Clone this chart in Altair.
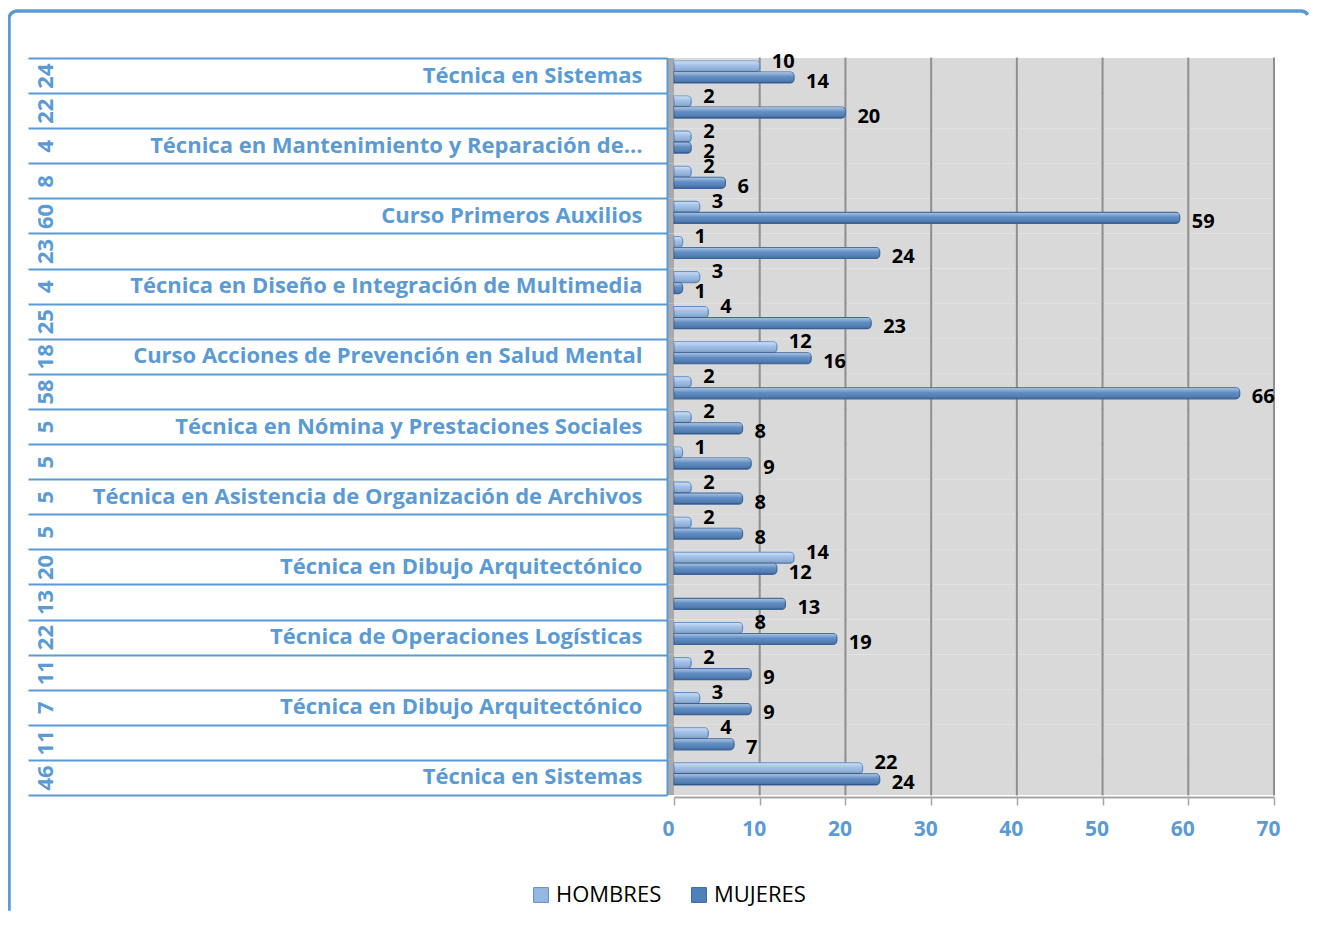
import json
import math
import altair as alt
import pandas as pd

categories = [
    "Técnica en Sistemas", "",
    "Técnica en Mantenimiento y Reparación de…", "",
    "Curso Primeros Auxilios", "",
    "Técnica en Diseño e Integración de Multimedia", "",
    "Curso Acciones de Prevención en Salud Mental", "",
    "Técnica en Nómina y Prestaciones Sociales", "",
    "Técnica en Asistencia de Organización de Archivos", "",
    "Técnica en Dibujo Arquitectónico", "",
    "Técnica de Operaciones Logísticas", "",
    "Técnica en Dibujo Arquitectónico", "",
    "Técnica en Sistemas",
]
totals = [24, 22, 4, 8, 60, 23, 4, 25, 18, 58, 5, 5, 5, 5, 20, 13, 22, 11, 7, 11, 46]
hombres = [10, 2, 2, 2, 3, 1, 3, 4, 12, 2, 2, 1, 2, 2, 14, 0, 8, 2, 3, 4, 22]
mujeres = [14, 20, 2, 6, 59, 24, 1, 23, 16, 66, 8, 9, 8, 8, 12, 13, 19, 9, 9, 7, 24]
series = ["HOMBRES", "MUJERES"]
x_ticks = [0, 10, 20, 30, 40, 50, 60, 70]

BLUE = "#5b9bd5"
FONT = "Open Sans"
H_COL, M_COL = "#95b8e3", "#4f81bd"
H_STROKE, M_STROKE = "#5f8dc8", "#3a679e"

W, H, R = 1300, 908, 8

rows = list(range(len(categories)))
df_rows = pd.DataFrame({"row": rows, "total": totals, "category": categories})
df_long = pd.DataFrame({
    "row": rows * 2,
    "series": [series[0]] * len(rows) + [series[1]] * len(rows),
    "value": hombres + mujeres,
})
df_grid = pd.DataFrame([{"row": r, "gv": g} for r in rows for g in x_ticks[1:]])

def yscale():
    return alt.Scale(range=[47, 784], paddingInner=0, paddingOuter=0)

cat_expr = json.dumps(categories, ensure_ascii=False) + "[datum.value]"
tot_expr = json.dumps([str(t) for t in totals]) + "[datum.value]"

totals_axis = alt.Axis(
    orient="left", offset=-658, title=None, tickBand="extent", tickSize=639,
    tickWidth=2, tickColor=BLUE, domain=True, domainColor=BLUE, domainWidth=2,
    labelExpr=tot_expr, labelAngle=270, labelAlign="center", labelBaseline="middle",
    labelPadding=-17, labelFont=FONT, labelFontWeight="bold", labelFontSize=22,
    labelColor=BLUE,
)
cat_axis = alt.Axis(
    orient="left", offset=-633, title=None, ticks=False, domain=False,
    labelExpr=cat_expr, labelPadding=0, labelLimit=800, labelFont=FONT,
    labelFontWeight="bold", labelFontSize=22, labelColor=BLUE,
)
x_axis = alt.Axis(
    values=x_ticks, offset=786 - H, title=None, grid=False,
    tickColor="#a6a6a6", tickSize=8, tickWidth=1.5,
    domainColor="#a6a6a6", domainWidth=2, labelFont=FONT, labelFontWeight="bold",
    labelFontSize=21, labelColor=BLUE, labelPadding=13, labelOffset=-6,
    labelFlush=False,
)
xscale = alt.Scale(domain=[0, 70], range=[665, 1265], nice=False)

bg_rect = alt.Chart(df_rows).mark_rect(fill="#d9d9d9").encode(
    x=alt.datum(0, scale=xscale), x2=alt.datum(70)
)
side_wall = alt.Chart(df_rows).mark_rect(fill="#a9a9a9").encode(
    x=alt.datum(-0.8), x2=alt.datum(0)
)
grid = alt.Chart(df_grid).mark_tick(
    orient="vertical", color="#8f8f8f", thickness=2, size=36, opacity=1
).encode(x=alt.X("gv:Q"))
bg = alt.layer(bg_rect, side_wall, grid).encode(
    y=alt.Y("row:O", scale=yscale(), axis=totals_axis)
)

xenc = alt.X("value:Q", scale=xscale, axis=x_axis)

bars = alt.Chart().transform_filter("datum.value > 0").mark_bar(
    strokeWidth=1.2, cornerRadiusEnd=4
).encode(
    x=xenc,
    fill=alt.Fill("series:N", scale=alt.Scale(domain=series, range=[H_COL, M_COL]),
                  legend=alt.Legend(
                      orient="none", legendX=521, legendY=873, direction="horizontal",
                      title=None, symbolType="square", symbolSize=220,
                      symbolStrokeColor="#4f81bd", symbolStrokeWidth=1,
                      labelFont=FONT, labelFontSize=22, labelColor="black",
                      columnPadding=26, labelOffset=4)),
    stroke=alt.Stroke("series:N", scale=alt.Scale(domain=series, range=[H_STROKE, M_STROKE]),
                      legend=None),
)
shine = alt.Chart().transform_filter("datum.value > 0").mark_bar(
    cornerRadiusEnd=4, strokeWidth=0,
    fill=alt.Gradient(gradient="linear", x1=0, x2=0, y1=0, y2=1, stops=[
        alt.GradientStop(offset=0, color="rgba(255,255,255,0.55)"),
        alt.GradientStop(offset=0.45, color="rgba(255,255,255,0.08)"),
        alt.GradientStop(offset=1, color="rgba(0,0,0,0.18)"),
    ]),
).encode(x=alt.X("value:Q"))

text_h = alt.Chart().transform_filter(
    "datum.series == 'HOMBRES' && datum.value > 0"
).mark_text(align="left", dx=12, dy=-5, font=FONT, fontWeight="bold",
            fontSize=20, color="black").encode(x=alt.X("value:Q"), text="value:Q")
text_m = alt.Chart().transform_filter(
    "datum.series == 'MUJERES' && datum.value > 0"
).mark_text(align="left", dx=12, dy=4, font=FONT, fontWeight="bold",
            fontSize=20, color="black").encode(x=alt.X("value:Q"), text="value:Q")

inner = alt.layer(bars, shine, text_h, text_m, data=df_long).encode(
    y=alt.Y("row:O", scale=yscale(), axis=cat_axis),
    yOffset=alt.YOffset("series:N", scale=alt.Scale(domain=series, range=[3, 25],
                                                    paddingInner=0, paddingOuter=0)),
)

# frame: only top and left edges of the rounded view outline are drawn
arc = math.pi * R / 2
dash = [W - R, 2 * arc + (H - 2 * R) + (W - 2 * R) + arc - R, (H - 2 * R) + arc + 10]

chart = alt.layer(bg, inner).resolve_scale(y="independent").properties(
    width=W, height=H, padding={"left": 1, "top": 3, "right": 0, "bottom": 0}
).configure_view(
    stroke=BLUE, strokeWidth=3.5, cornerRadius=R, fill="white", strokeDash=dash
)

chart.save("out.html", embed_options={"renderer": "svg", "actions": False})
